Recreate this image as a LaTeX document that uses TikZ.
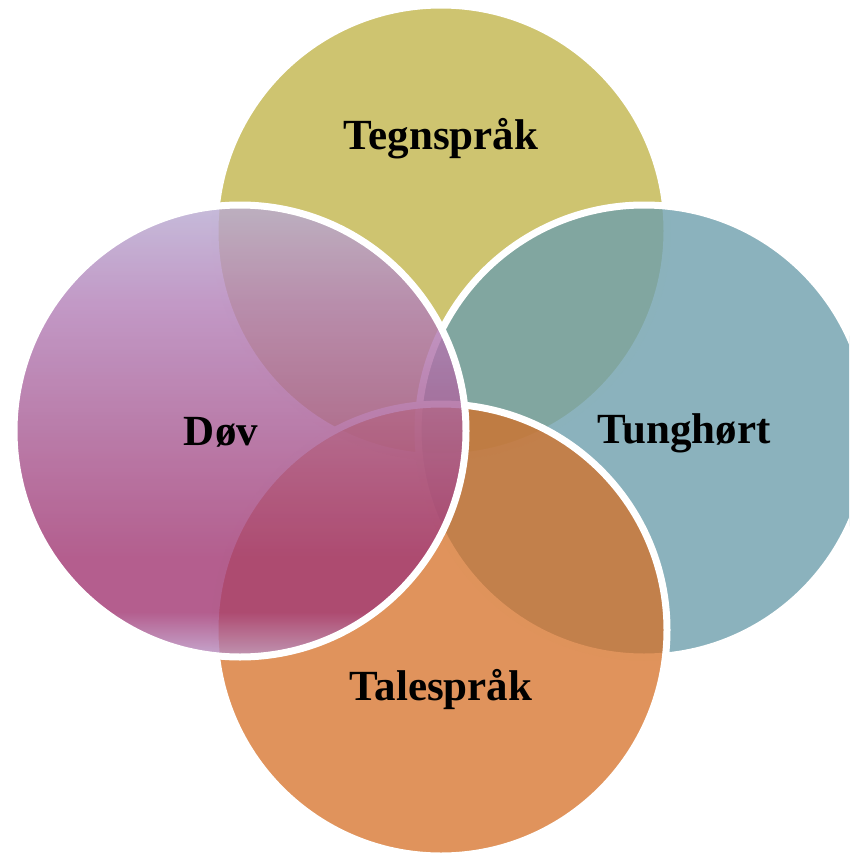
\documentclass[tikz,border=0pt]{standalone}
\usepackage{fontspec}
\setmainfont{Liberation Serif}
\definecolor{ctop}{RGB}{206,196,112}
\definecolor{cright}{RGB}{110,159,172}
\definecolor{cbottom}{RGB}{213,111,37}
\definecolor{lA}{RGB}{185,172,210}
\definecolor{lB}{RGB}{180,130,185}
\definecolor{lC}{RGB}{170,95,150}
\definecolor{lD}{RGB}{163,59,117}
\definecolor{lE}{RGB}{186,150,198}
\pgfdeclareverticalshading{dovshade}{100bp}{color(0bp)=(lE); color(25bp)=(lE); color(30bp)=(lD); color(36bp)=(lD); color(50bp)=(lC); color(64bp)=(lB); color(75bp)=(lA); color(100bp)=(lA)}
\tikzset{
  circ/.style={draw=white, line width=7pt},
  lbl/.style={font=\fontsize{43}{50}\selectfont\bfseries, anchor=base, inner sep=0pt}
}
\begin{document}
\begin{tikzpicture}[x=1pt,y=-1pt]
\useasboundingbox (0,0) rectangle (849,853);
\begin{scope}
\clip (0,0) rectangle (849,853);
\fill[ctop] (441,231) circle[radius=226];
\draw[circ] (441,231) circle[radius=226];
\fill[cright, fill opacity=0.8] (644,431) circle[radius=226];
\draw[circ] (644,431) circle[radius=226];
\fill[cbottom, fill opacity=0.75] (441,630) circle[radius=226];
\draw[circ] (441,630) circle[radius=226];
\shade[shading=dovshade, opacity=0.82] (240,431) circle[radius=226];
\draw[circ] (240,431) circle[radius=226];
\end{scope}
\node[lbl] (teg) at (441,150) {Tegnspråk};
\node[lbl] (tun) at (684,443) {Tunghørt};
\node[lbl] (dov) at (221,445) {Døv};
\node[lbl] (tal) at (441,700) {Talespråk};
\end{tikzpicture}
\end{document}
